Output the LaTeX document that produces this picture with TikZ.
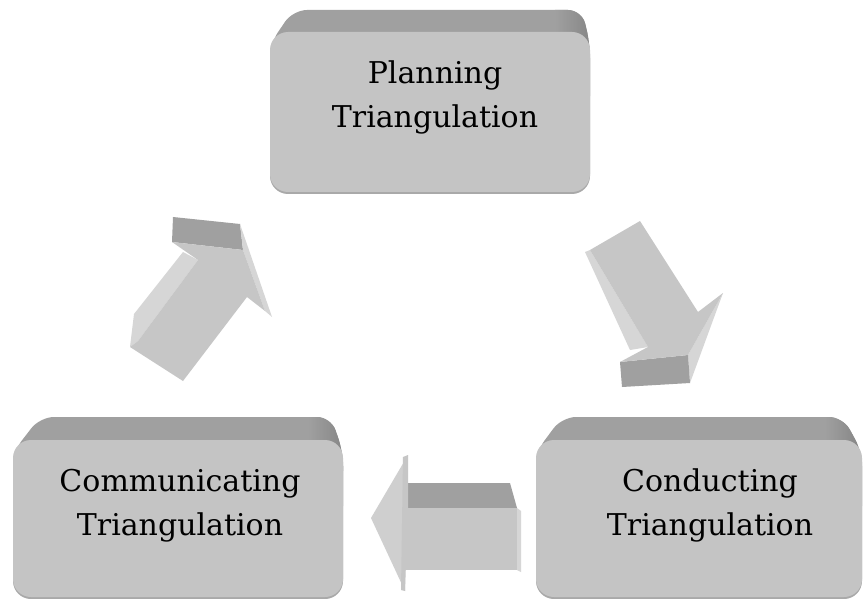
\documentclass[tikz,border=0pt]{standalone}
\usepackage{fontspec}
\setmainfont{DejaVu Serif}
\definecolor{facec}{HTML}{C4C4C4}
\definecolor{bandc}{HTML}{A0A0A0}
\definecolor{bandend}{HTML}{838383}
\definecolor{shadc}{HTML}{A9A9A9}
\definecolor{arrface}{HTML}{C6C6C6}
\definecolor{arrside}{HTML}{D6D6D6}
\definecolor{arrcap}{HTML}{A0A0A0}
\definecolor{arrhead}{HTML}{CFCFCF}
\tikzset{
  facebox/.style={fill=facec, draw=none, rounded corners=18pt, inner sep=0pt},
  band/.style={fill=bandc, draw=none, rounded corners=14pt},
  bandshade/.style={left color=bandc, right color=bandend, draw=none},
  boxshadow/.style={fill=shadc, draw=none, rounded corners=18pt},
  lbl/.style={font=\fontsize{30}{44}\selectfont, align=center, inner sep=0pt, text=black},
  afront/.style={fill=arrface, draw=none},
  aside/.style={fill=arrside, draw=none},
  acap/.style={fill=arrcap, draw=none},
  ahead/.style={fill=arrhead, draw=none}
}
\begin{document}
\begin{tikzpicture}[x=1pt,y=-1pt]
\useasboundingbox[fill=white] (0,0) rectangle (863,599);

% ---------- top box: Planning ----------
\fill[band] (270,110) -- (270,44) -- (293,10) -- (582,10) -- (590,44) -- (590,110) -- cycle;
\begin{scope}
  \clip[rounded corners=14pt] (270,110) -- (270,44) -- (293,10) -- (582,10) -- (590,44) -- (590,110) -- cycle;
  \shade[bandshade] (555,0) rectangle (595,60);
\end{scope}
\fill[boxshadow] (270,36) rectangle (590,194);
\node[facebox, minimum width=320pt, minimum height=160pt] (plan) at (430,112) {};
\node[lbl] (plantext) at (435,97) {Planning\\Triangulation};

% ---------- bottom-left box: Communicating ----------
\fill[band] (13,520) -- (13,452) -- (40,417) -- (331,417) -- (343,452) -- (343,520) -- cycle;
\begin{scope}
  \clip[rounded corners=14pt] (13,520) -- (13,452) -- (40,417) -- (331,417) -- (343,452) -- (343,520) -- cycle;
  \shade[bandshade] (308,405) rectangle (348,470);
\end{scope}
\fill[boxshadow] (13,444) rectangle (343,599);
\node[facebox, minimum width=330pt, minimum height=157pt] (comm) at (178,518.5) {};
\node[lbl] (commtext) at (180,505.7) {Communicating\\Triangulation};

% ---------- bottom-right box: Conducting ----------
\fill[band] (536,520) -- (536,452) -- (562,417) -- (843,417) -- (862,452) -- (862,520) -- cycle;
\begin{scope}
  \clip[rounded corners=14pt] (536,520) -- (536,452) -- (562,417) -- (843,417) -- (862,452) -- (862,520) -- cycle;
  \shade[bandshade] (825,405) rectangle (863,470);
\end{scope}
\fill[boxshadow] (536,444) rectangle (862,599);
\node[facebox, minimum width=326pt, minimum height=157pt] (cond) at (699,518.5) {};
\node[lbl] (condtext) at (710,505.6) {Conducting\\Triangulation};

% ---------- arrow 1: Communicating -> Planning ----------
\fill[acap] (173,217) -- (240,224) -- (243,250) -- (172,242) -- cycle;
\fill[aside] (240,224) -- (272,317) -- (265,311) -- (243,250) -- cycle;
\fill[aside] (183,252) -- (198,260) -- (138,341) -- (130,347) -- (134,314) -- cycle;
\fill[afront] (172,242) -- (243,250) -- (265,311) -- (247,297) -- (183,381) -- (130,347) -- (138,341) -- (198,260) -- cycle;

% ---------- arrow 2: Planning -> Conducting ----------
\fill[aside] (585,252) -- (590,250) -- (648,347) -- (630,350) -- cycle;
\fill[aside] (723,293) -- (690,383) -- (688,355) -- cycle;
\fill[acap] (620,362) -- (688,355) -- (690,383) -- (622,387) -- cycle;
\fill[afront] (590,250) -- (640,221) -- (698,312) -- (723,293) -- (688,355) -- (620,362) -- (648,347) -- cycle;

% ---------- arrow 3: Conducting -> Communicating ----------
\fill[acap] (408,483) -- (510,483) -- (517,508) -- (403,508) -- cycle;
\fill[aside] (517,508) -- (521,511) -- (521,572) -- (517,570) -- cycle;
\fill[afront] (403,508) -- (517,508) -- (517,570) -- (403,570) -- cycle;
\fill[ahead] (408,455) -- (405,508) -- (405,591) -- (371,518) -- cycle;
\fill[arrface] (403,457) -- (408,455) -- (408,508) -- (405,591) -- (401,590) -- cycle;
\end{tikzpicture}
\end{document}
